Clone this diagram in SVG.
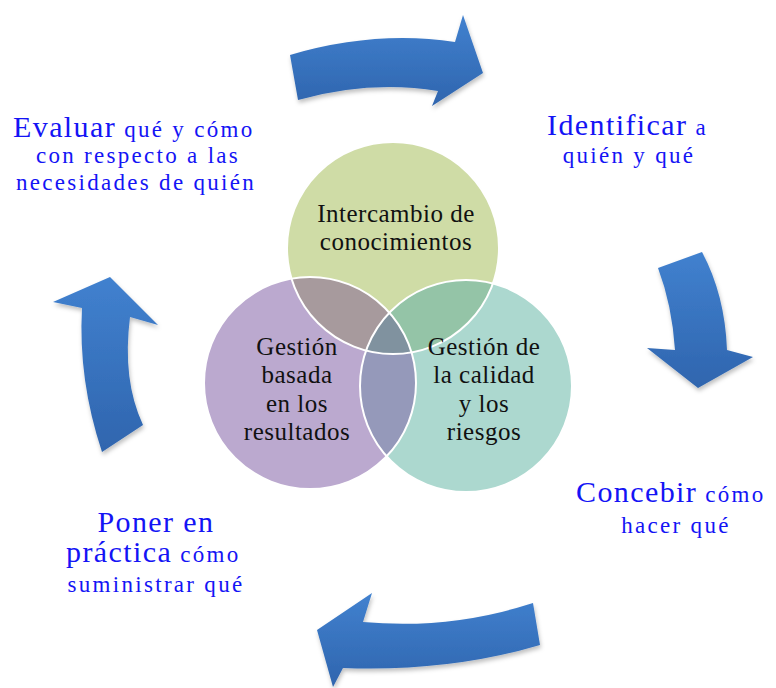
<svg xmlns="http://www.w3.org/2000/svg" width="776" height="688" viewBox="0 0 776 688">
<defs>
<linearGradient id="ag" x1="0" y1="0" x2="0" y2="1">
<stop offset="0" stop-color="#4181cf"/>
<stop offset="1" stop-color="#2f65ae"/>
</linearGradient>
<filter id="sh" x="-20%" y="-20%" width="140%" height="140%">
<feDropShadow dx="1" dy="3" stdDeviation="2" flood-color="#000" flood-opacity="0.25"/>
</filter>
<clipPath id="cG"><circle cx="393" cy="248" r="106"/></clipPath>
<clipPath id="cP"><circle cx="310" cy="383" r="106"/></clipPath>
<clipPath id="cT"><circle cx="466" cy="386" r="106"/></clipPath>
<style>
.arr{fill:url(#ag);filter:url(#sh)}
.ct{font-family:"Liberation Serif",serif;font-size:25px;letter-spacing:0.5px;fill:#111;text-anchor:middle}
.bl{font-family:"Liberation Serif",serif;fill:#1414f5}
.big{font-size:30px;letter-spacing:1.4px}
.sm{font-size:23px;letter-spacing:2.3px}
.ring{fill:none;stroke:#fff;stroke-width:2}
</style>
</defs>
<rect width="776" height="688" fill="#fff"/>

<g id="connectors">
<path id="arrow-top" class="arr" d="M290,55 Q375,30 455,42 L463,15 L483,73 L432,106 L438,91 Q370,80 298,100 Z"/>
<path id="arrow-right" class="arr" d="M658,268 L702,252 Q725,295 727,350 L753,357 L698,388 L647,348 L675,350 Q672,305 658,268 Z"/>
<path id="arrow-bottom" class="arr" d="M533,603 Q450,630 363,622 L372,593 L317,630 L333,687 L343,668 Q450,672 540,645 Z"/>
<path id="arrow-left" class="arr" d="M82,308 L53,302 L110,277 L158,325 L130,317 Q122,380 143,425 L102,452 Q78,380 82,308 Z"/>
</g>

<g id="venn">
<circle cx="393" cy="248" r="106" fill="#cfdca6"/>
<circle cx="310" cy="383" r="106" fill="#bba9cf"/>
<circle cx="466" cy="386" r="106" fill="#acd8cf"/>
<g clip-path="url(#cG)">
<circle cx="310" cy="383" r="106" fill="#a79a9d"/>
<circle cx="466" cy="386" r="106" fill="#94c4a7"/>
</g>
<g clip-path="url(#cP)">
<circle cx="466" cy="386" r="106" fill="#9599ba"/>
<g clip-path="url(#cG)"><circle cx="466" cy="386" r="106" fill="#80929f"/></g>
</g>
<circle class="ring" cx="393" cy="248" r="106"/>
<circle class="ring" cx="310" cy="383" r="106"/>
<circle class="ring" cx="466" cy="386" r="106"/>
</g>

<g id="node-intercambio">
<text class="ct" x="396" y="222">Intercambio de</text>
<text class="ct" x="396" y="250">conocimientos</text>
</g>
<g id="node-resultados">
<text class="ct" x="297" y="355">Gestión</text>
<text class="ct" x="297" y="383">basada</text>
<text class="ct" x="297" y="412">en los</text>
<text class="ct" x="297" y="440">resultados</text>
</g>
<g id="node-calidad">
<text class="ct" x="484" y="355">Gestión de</text>
<text class="ct" x="484" y="383">la calidad</text>
<text class="ct" x="484" y="412">y los</text>
<text class="ct" x="484" y="440">riesgos</text>
</g>

<g id="label-identificar">
<text class="bl" x="547" y="135"><tspan class="big">Identificar</tspan><tspan class="sm"> a</tspan></text>
<text class="bl sm" x="629" y="163" text-anchor="middle">quién y qué</text>
</g>
<g id="label-concebir">
<text class="bl" x="576" y="502"><tspan class="big">Concebir</tspan><tspan class="sm"> cómo</tspan></text>
<text class="bl sm" x="676" y="533" text-anchor="middle">hacer qué</text>
</g>
<g id="label-poner">
<text class="bl big" x="156" y="532" text-anchor="middle">Poner en</text>
<text class="bl" x="66" y="562"><tspan class="big">práctica</tspan><tspan class="sm"> cómo</tspan></text>
<text class="bl sm" x="156" y="592" text-anchor="middle">suministrar qué</text>
</g>
<g id="label-evaluar">
<text class="bl" x="13" y="137"><tspan class="big">Evaluar</tspan><tspan class="sm"> qué y cómo</tspan></text>
<text class="bl sm" x="138" y="163" text-anchor="middle">con respecto a las</text>
<text class="bl sm" x="136" y="190" text-anchor="middle">necesidades de quién</text>
</g>
</svg>
